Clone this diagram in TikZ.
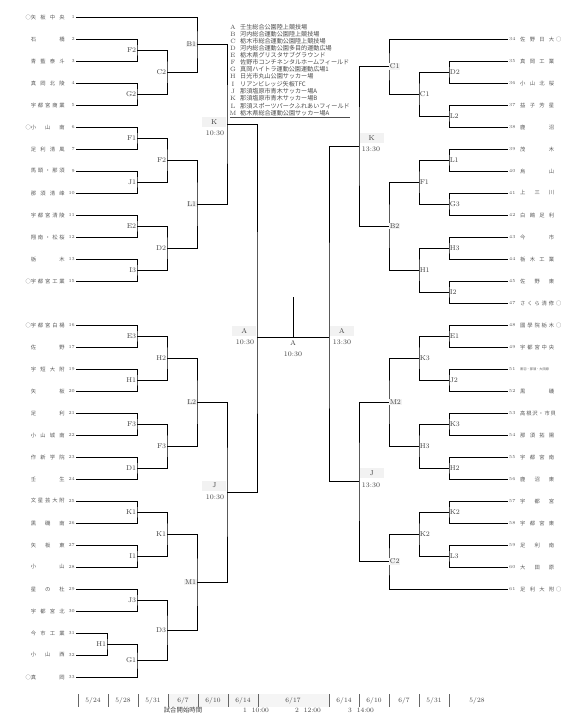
\documentclass[tikz,border=0pt]{standalone}
\usepackage{fontspec}
\newfontfamily\jp{Noto Sans CJK JP}
\usetikzlibrary{calc}
\newcommand\nm[1]{\makebox[34pt][s]{#1}}
\begin{document}
\begin{tikzpicture}[x=1pt,y=-1pt,
  br/.style={line width=0.9pt,black},
  tname/.style={font=\jp\fontsize{5.3}{5.3}\selectfont,text=black!65,inner sep=0pt},
  tnum/.style={font=\fontsize{4.6}{4.6}\selectfont,text=black!65,inner sep=0pt},
  lab/.style={font=\fontsize{7}{7}\selectfont,text=black!75,inner sep=0.6pt},
  labL/.style={lab,anchor=east},
  labR/.style={lab,anchor=west},
  gbox/.style={fill=black!5},
  semi/.style={font=\fontsize{7}{7}\selectfont,text=black!75,fill=black!5,minimum width=24pt,minimum height=10pt,inner sep=0pt},
  tim/.style={font=\fontsize{7}{7}\selectfont,text=black!75,inner sep=0pt},
  leg/.style={font=\jp\fontsize{6.1}{6.1}\selectfont,text=black!70,inner sep=0pt,anchor=west},
  legl/.style={font=\fontsize{6.2}{6.2}\selectfont,text=black!70,inner sep=0pt},
  date/.style={font=\fontsize{6.6}{6.6}\selectfont,text=black!75,inner sep=0pt},
  bar/.style={line width=0.5pt,black!60}
]
\useasboundingbox (0,0) rectangle (579,724);
\fill[white] (0,0) rectangle (579,724);

% ---------- macros ----------
\newcommand\lt[3]{%
  \node[tname,anchor=east] (ln#1) at (65,#2) {\nm{#3}};
  \node[tnum,anchor=east] (lno#1) at (75,#2) {#1};
  \coordinate (t#1) at (76,#2);}
\newcommand\rt[3]{%
  \node[tnum,anchor=west] (rno#1) at (509,#2) {#1};
  \node[tname,anchor=west] (rn#1) at (520,#2) {\nm{#3}};
  \coordinate (t#1) at (508,#2);}
\newcommand\lcirc[2]{\node[tname,anchor=east] (lc#1) at (31,#2) {○};}
\newcommand\rcirc[2]{\node[tname,anchor=west] (rc#1) at (556,#2) {○};}
\newcommand\mt[5]{%
  \coordinate (#1) at (#4,#5);
  \draw[br] (#2) -| (#1) |- (#3);}

% ---------- left teams ----------
\lt{1}{17}{矢 板 中 央}\lcirc{1}{17}
\lt{2}{39}{石 橋}
\lt{3}{61}{青 藍 泰 斗}
\lt{4}{83}{真 岡 北 陵}
\lt{5}{105}{宇 都 宮 商 業}
\lt{6}{127}{小 山 南}\lcirc{6}{127}
\lt{7}{149}{足 利 清 風}
\lt{9}{171}{馬 頭 ・ 那 須}
\lt{10}{193}{那 須 清 峰}
\lt{11}{215}{宇 都 宮 清 陵}
\lt{12}{237}{翔 南 ・ 松 桜}
\lt{13}{259}{栃 木}
\lt{15}{281}{宇 都 宮 工 業}\lcirc{15}{281}
\lt{16}{325}{宇 都 宮 白 楊}\lcirc{16}{325}
\lt{17}{347}{佐 野}
\lt{19}{369}{宇 短 大 附}
\lt{20}{391}{矢 板}
\lt{21}{413}{足 利}
\lt{22}{435}{小 山 城 南}
\lt{23}{457}{作 新 学 院}
\lt{24}{479}{壬 生}
\lt{25}{501}{文 星 芸 大 附}
\lt{26}{523}{黒 磯 南}
\lt{27}{545}{矢 板 東}
\lt{28}{567}{小 山}
\lt{29}{589}{星 の 杜}
\lt{30}{611}{宇 都 宮 北}
\lt{31}{633}{今 市 工 業}
\lt{32}{655}{小 山 西}
\lt{33}{677}{真 岡}\lcirc{33}{677}

% ---------- right teams ----------
\rt{34}{39}{佐 野 日 大}\rcirc{34}{39}
\rt{35}{61}{真 岡 工 業}
\rt{36}{83}{小 山 北 桜}
\rt{37}{105}{益 子 芳 星}
\rt{38}{127}{鹿 沼}
\rt{39}{149}{茂 木}
\rt{40}{171}{烏 山}
\rt{41}{193}{上 三 川}
\rt{42}{215}{白 鴎 足 利}
\rt{43}{237}{今 市}
\rt{44}{259}{栃 木 工 業}
\rt{45}{281}{佐 野 東}
\rt{47}{303}{さ く ら 清 修}\rcirc{47}{303}
\rt{48}{325}{國 學 院 栃 木}\rcirc{48}{325}
\rt{49}{347}{宇 都 宮 中 央}
\node[tnum,anchor=west] (rno51) at (509,369) {51};
\node[font=\jp\fontsize{3.2}{3.2}\selectfont,text=black!65,inner sep=0pt,anchor=west] (rn51) at (520,369) {黒羽・那須・大田原};
\coordinate (t51) at (508,369);
\rt{52}{391}{黒 磯}
\rt{53}{413}{高 根 沢 ・ 市 貝}
\rt{54}{435}{那 須 拓 陽}
\rt{55}{457}{宇 都 宮 南}
\rt{56}{479}{鹿 沼 東}
\rt{57}{501}{宇 都 宮}
\rt{58}{523}{宇 都 宮 東}
\rt{59}{545}{足 利 南}
\rt{60}{567}{大 田 原}
\rt{61}{589}{足 利 大 附}\rcirc{61}{589}

% ---------- left bracket ----------
\mt{LF2}{t2}{t3}{137}{50}
\mt{LG2}{t4}{t5}{137}{94}
\mt{LF1}{t6}{t7}{137}{138}
\mt{LJ1}{t9}{t10}{137}{182}
\mt{LE2}{t11}{t12}{137}{226}
\mt{LI3}{t13}{t15}{137}{270}
\mt{LE3}{t16}{t17}{137}{336}
\mt{LH1}{t19}{t20}{137}{380}
\mt{LF3}{t21}{t22}{137}{424}
\mt{LD1}{t23}{t24}{137}{468}
\mt{LK1}{t25}{t26}{137}{512}
\mt{LI1}{t27}{t28}{137}{556}
\mt{LJ3}{t29}{t30}{137}{600}
\mt{LH1b}{t31}{t32}{107}{644}
\mt{LG1}{LH1b}{t33}{137}{660.5}
\mt{LC2}{LF2}{LG2}{167}{72}
\mt{LF2b}{LF1}{LJ1}{167}{160}
\mt{LD2}{LE2}{LI3}{167}{248}
\mt{LH2}{LE3}{LH1}{167}{358}
\mt{LF3b}{LF3}{LD1}{167}{446}
\mt{LK1b}{LK1}{LI1}{167}{534}
\mt{LD3}{LJ3}{LG1}{167}{630.25}
\mt{LB1}{t1}{LC2}{197}{44.5}
\mt{LL1}{LF2b}{LD2}{197}{204}
\mt{LL2}{LH2}{LF3b}{197}{402}
\mt{LM1}{LK1b}{LD3}{197}{582}
\mt{LK}{LB1}{LL1}{227}{124.25}
\mt{LJ}{LL2}{LM1}{227}{492}
\mt{LA}{LK}{LJ}{257}{337}

% ---------- right bracket ----------
\mt{RD2}{t35}{t36}{449}{72}
\mt{RL2}{t37}{t38}{449}{116}
\mt{RL1}{t39}{t40}{449}{160}
\mt{RG3}{t41}{t42}{449}{204}
\mt{RH3}{t43}{t44}{449}{248}
\mt{RI2}{t45}{t47}{449}{292}
\mt{RE1}{t48}{t49}{449}{336}
\mt{RJ2}{t51}{t52}{449}{380}
\mt{RK3}{t53}{t54}{449}{424}
\mt{RH2}{t55}{t56}{449}{468}
\mt{RK2}{t57}{t58}{449}{512}
\mt{RL3}{t59}{t60}{449}{556}
\mt{RC1}{RD2}{RL2}{419}{94}
\mt{RF1}{RL1}{RG3}{419}{182}
\mt{RH1}{RH3}{RI2}{419}{270}
\mt{RK3b}{RE1}{RJ2}{419}{358}
\mt{RH3b}{RK3}{RH2}{419}{446}
\mt{RK2b}{RK2}{RL3}{419}{534}
\mt{RC1b}{t34}{RC1}{389}{66.5}
\mt{RB2}{RF1}{RH1}{389}{226}
\mt{RM2}{RK3b}{RH3b}{389}{402}
\mt{RC2}{RK2b}{t61}{389}{561.5}
\mt{RK}{RC1b}{RB2}{359}{146.25}
\mt{RJ}{RM2}{RC2}{359}{481.75}
\mt{RA}{RK}{RJ}{329}{337}

% final
\draw[br] (LA) -- (RA);
\coordinate (champ) at (293,297);
\draw[br] (champ) -- (champ |- LA);

% ---------- level labels ----------
\node[labL] at (LF2) {F2};
\node[labL] at (LG2) {G2};
\node[labL] at (LF1) {F1};
\node[labL] at (LJ1) {J1};
\node[labL] at (LE2) {E2};
\node[labL] at (LI3) {I3};
\node[labL] at (LE3) {E3};
\node[labL] at (LH1) {H1};
\node[labL] at (LF3) {F3};
\node[labL] at (LD1) {D1};
\node[labL] at (LK1) {K1};
\node[labL] at (LI1) {I1};
\node[labL] at (LJ3) {J3};
\node[labL] at (LH1b) {H1};
\node[labL] at (LG1) {G1};
\node[labL] at (LC2) {C2};
\node[labL] at (LF2b) {F2};
\node[labL] at (LD2) {D2};
\node[labL] at (LH2) {H2};
\node[labL] at (LF3b) {F3};
\node[labL] at (LK1b) {K1};
\node[labL] at (LD3) {D3};
\node[labL,gbox] at (LB1) {B1};
\node[labL,gbox] at (LL1) {L1};
\node[labL,gbox] at (LL2) {L2};
\node[labL,gbox] at (LM1) {M1};

\node[labR] at (RD2) {D2};
\node[labR] at (RL2) {L2};
\node[labR] at (RL1) {L1};
\node[labR] at (RG3) {G3};
\node[labR] at (RH3) {H3};
\node[labR] at (RI2) {I2};
\node[labR] at (RE1) {E1};
\node[labR] at (RJ2) {J2};
\node[labR] at (RK3) {K3};
\node[labR] at (RH2) {H2};
\node[labR] at (RK2) {K2};
\node[labR] at (RL3) {L3};
\node[labR] at (RC1) {C1};
\node[labR] at (RF1) {F1};
\node[labR] at (RH1) {H1};
\node[labR] at (RK3b) {K3};
\node[labR] at (RH3b) {H3};
\node[labR] at (RK2b) {K2};
\node[labR,gbox] at (RC1b) {C1};
\node[labR,gbox] at (RB2) {B2};
\node[labR,gbox] at (RM2) {M2};
\node[labR,gbox] at (RC2) {C2};

% semi / final labels
\node[semi,anchor=east] (kL) at (226.5,122) {K};
\node[tim] at (215,133) {10:30};
\node[semi,anchor=east] (jL) at (226.5,485.5) {J};
\node[tim] at (215,497) {10:30};
\node[semi,anchor=west] (kR) at (359.5,138) {K};
\node[tim] at (371,149) {13:30};
\node[semi,anchor=west] (jR) at (359.5,473) {J};
\node[tim] at (371,485) {13:30};
\node[semi,anchor=east] (aL) at (256.5,331) {A};
\node[tim] at (245,342) {10:30};
\node[semi,anchor=west] (aR) at (329.5,331) {A};
\node[tim] at (342,342) {13:30};
\node[tim] at (293,343) {A};
\node[tim] at (293,354) {10:30};

% ---------- legend ----------
\foreach \l/\t/\yy in {A/壬生総合公園陸上競技場/27, B/河内総合運動公園陸上競技場/34,
  C/栃木市総合運動公園陸上競技場/41, D/河内総合運動公園多目的運動広場/48,
  E/栃木県グリスタサブグラウンド/55, F/佐野市コンチネンタルホームフィールド/62,
  G/真岡ハイトラ運動公園運動広場1/69.5, H/日光市丸山公園サッカー場/76.5,
  I/リアンビレッジ矢板TFC/84, J/那須塩原市青木サッカー場A/91,
  K/那須塩原市青木サッカー場B/98.5, L/那須スポーツパークふれあいフィールド/106,
  M/栃木県総合運動公園サッカー場A/113}{
  \node[legl] at (233,\yy) {\l};
  \node[leg] at (240,\yy) {\t};
}
\draw[line width=0.5pt,black!70] (230,117.5) -- (350,117.5);

% ---------- date row ----------
\fill[black!4] (168,694) rectangle (329,707);
\foreach \xx in {78,108,138,168,198,228,258,329,359,389,419,449}{
  \draw[bar] (\xx,694) -- (\xx,707);}
\foreach \xx/\d in {93/{5/24},123/{5/28},153/{5/31},183/{6/7},213/{6/10},243/{6/14},
  293/{6/17},344/{6/14},374/{6/10},404/{6/7},434/{5/31},477/{5/28}}{
  \node[date] at (\xx,700.5) {\d};}
\node[font=\jp\fontsize{6.4}{6.4}\selectfont,text=black!75,inner sep=0pt] at (183,710.5) {試合開始時間};
\node[date] at (256,710.5) {1\ \ 10:00};
\node[date] at (308,710.5) {2\ \ 12:00};
\node[date] at (361,710.5) {3\ \ 14:00};
\end{tikzpicture}
\end{document}
